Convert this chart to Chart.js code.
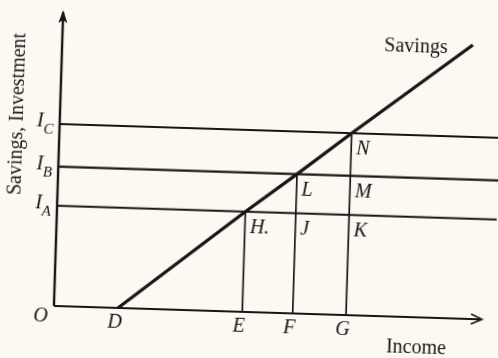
<!DOCTYPE html>
<html>
<head>
<meta charset="utf-8">
<script src="https://cdn.jsdelivr.net/npm/chart.js@4/dist/chart.umd.min.js"></script>
<style>
  html, body { margin: 0; padding: 0; background: #fbf9f1; }
  #wrap { width: 498px; height: 358px; overflow: hidden; position: relative; background: #fbf9f1; }
  #c { position: absolute; left: 0; top: 0; transform: rotate(1.8deg); transform-origin: 249px 179px; }
</style>
</head>
<body>
<div id="wrap"><canvas id="c" width="498" height="358"></canvas></div>
<script>
// ---- data (income on x, savings / investment on y) ----
const incomeLabels   = ['D', 'E', 'F', 'G'];
const incomeValues   = [15, 44.1, 55.9, 68.4];
const investSubs     = ['A', 'B', 'C'];          // I_A, I_B, I_C
const investLevels   = [34.1, 47.4, 61.9];
const savingsIncome  = [15, 44.1, 55.9, 68.4, 96.1];
const savingsValues  = [0, 34.1, 47.4, 61.9, 93.2];
const pointLabels    = ['H.', 'J', 'K', 'L', 'M', 'N'];
const pointIncomeIdx = [1, 2, 3, 2, 3, 3];       // index into incomeValues
const pointLevelIdx  = [0, 0, 0, 1, 1, 2];       // index into investLevels
const axisEnd        = 100;
const xTitle = 'Income';
const yTitle = 'Savings, Investment';
const curveTitle = 'Savings';

// ---- layout ----
const X_MIN = -13.58, X_MAX = 102.99, Y_MIN = -15.65, Y_MAX = 106.12;
const INK = '#161616';
const SERIF = '"Liberation Serif", "DejaVu Serif", serif';

function seg(x1, y1, x2, y2, w) {
  return { data: [{x: x1, y: y1}, {x: x2, y: y2}], showLine: true, borderColor: INK,
           borderWidth: w, pointRadius: 0, borderCapStyle: 'butt' };
}

const datasets = [];
datasets.push(seg(0, 0, axisEnd, 0, 2.2));        // income axis
datasets.push(seg(0, 0, 0, axisEnd, 2.4));        // savings/investment axis
investLevels.forEach(l => datasets.push(seg(0, l, X_MAX, l, 2.2)));
datasets.push({ data: savingsIncome.map((x, i) => ({x, y: savingsValues[i]})), showLine: true,
  borderColor: INK, borderWidth: 3.2, pointRadius: 0, tension: 0 });
investLevels.forEach((l, i) => datasets.push(seg(incomeValues[i + 1], 0, incomeValues[i + 1], l, 1.7)));

const labelPlugin = {
  id: 'labels',
  afterDatasetsDraw(chart) {
    const ctx = chart.ctx, xs = chart.scales.x, ys = chart.scales.y;
    const px = v => xs.getPixelForValue(v), py = v => ys.getPixelForValue(v);
    ctx.save();
    ctx.fillStyle = INK; ctx.strokeStyle = INK;
    // arrowheads
    const ox = px(0), oy = py(0);
    const tx = px(0), ty = py(axisEnd);
    ctx.beginPath(); ctx.moveTo(tx, ty - 2); ctx.lineTo(tx - 4.5, ty + 11); ctx.lineTo(tx, ty + 8); ctx.lineTo(tx + 4.5, ty + 11); ctx.closePath(); ctx.fill();
    const rx = px(axisEnd), ry = py(0);
    ctx.lineWidth = 1.6;
    ctx.beginPath(); ctx.moveTo(rx - 10, ry - 5); ctx.lineTo(rx + 1, ry); ctx.lineTo(rx - 10, ry + 5); ctx.stroke();

    ctx.textBaseline = 'middle';
    // income marks
    ctx.font = 'italic 20px ' + SERIF; ctx.textAlign = 'center';
    incomeLabels.forEach((t, i) => ctx.fillText(t, px(incomeValues[i]) - 3, oy + 15));
    ctx.fillText('O', ox - 13, oy + 11);
    // point labels
    ctx.textAlign = 'left';
    pointLabels.forEach((t, i) => {
      ctx.fillText(t, px(incomeValues[pointIncomeIdx[i]]) + 5, py(investLevels[pointLevelIdx[i]]) + 16);
    });
    // investment level labels I_x
    investSubs.forEach((s, i) => {
      const y = py(investLevels[i]);
      ctx.font = 'italic 15px ' + SERIF;
      const sw = ctx.measureText(s).width;
      const right = ox - 6;
      ctx.textAlign = 'left';
      ctx.fillText(s, right - sw, y + 6);
      ctx.font = 'italic 20px ' + SERIF;
      const iw = ctx.measureText('I').width;
      ctx.fillText('I', right - sw - iw, y - 2);
    });
    // titles
    ctx.font = '20px ' + SERIF; ctx.textAlign = 'center';
    ctx.fillText(curveTitle, px(82.8), py(91.9));
    ctx.fillText(xTitle, px(85.0), py(-10.4));
    ctx.translate(px(-10.0), py(64.9));
    ctx.rotate(-Math.PI / 2);
    ctx.fillText(yTitle, 0, 0);
    ctx.restore();
  }
};

new Chart(document.getElementById('c'), {
  type: 'scatter',
  data: { datasets },
  options: {
    responsive: false, animation: false, devicePixelRatio: 1,
    layout: { padding: 0 },
    plugins: { legend: { display: false }, tooltip: { enabled: false } },
    scales: {
      x: { type: 'linear', min: X_MIN, max: X_MAX, display: false },
      y: { type: 'linear', min: Y_MIN, max: Y_MAX, display: false }
    }
  },
  plugins: [labelPlugin]
});
</script>
</body>
</html>
